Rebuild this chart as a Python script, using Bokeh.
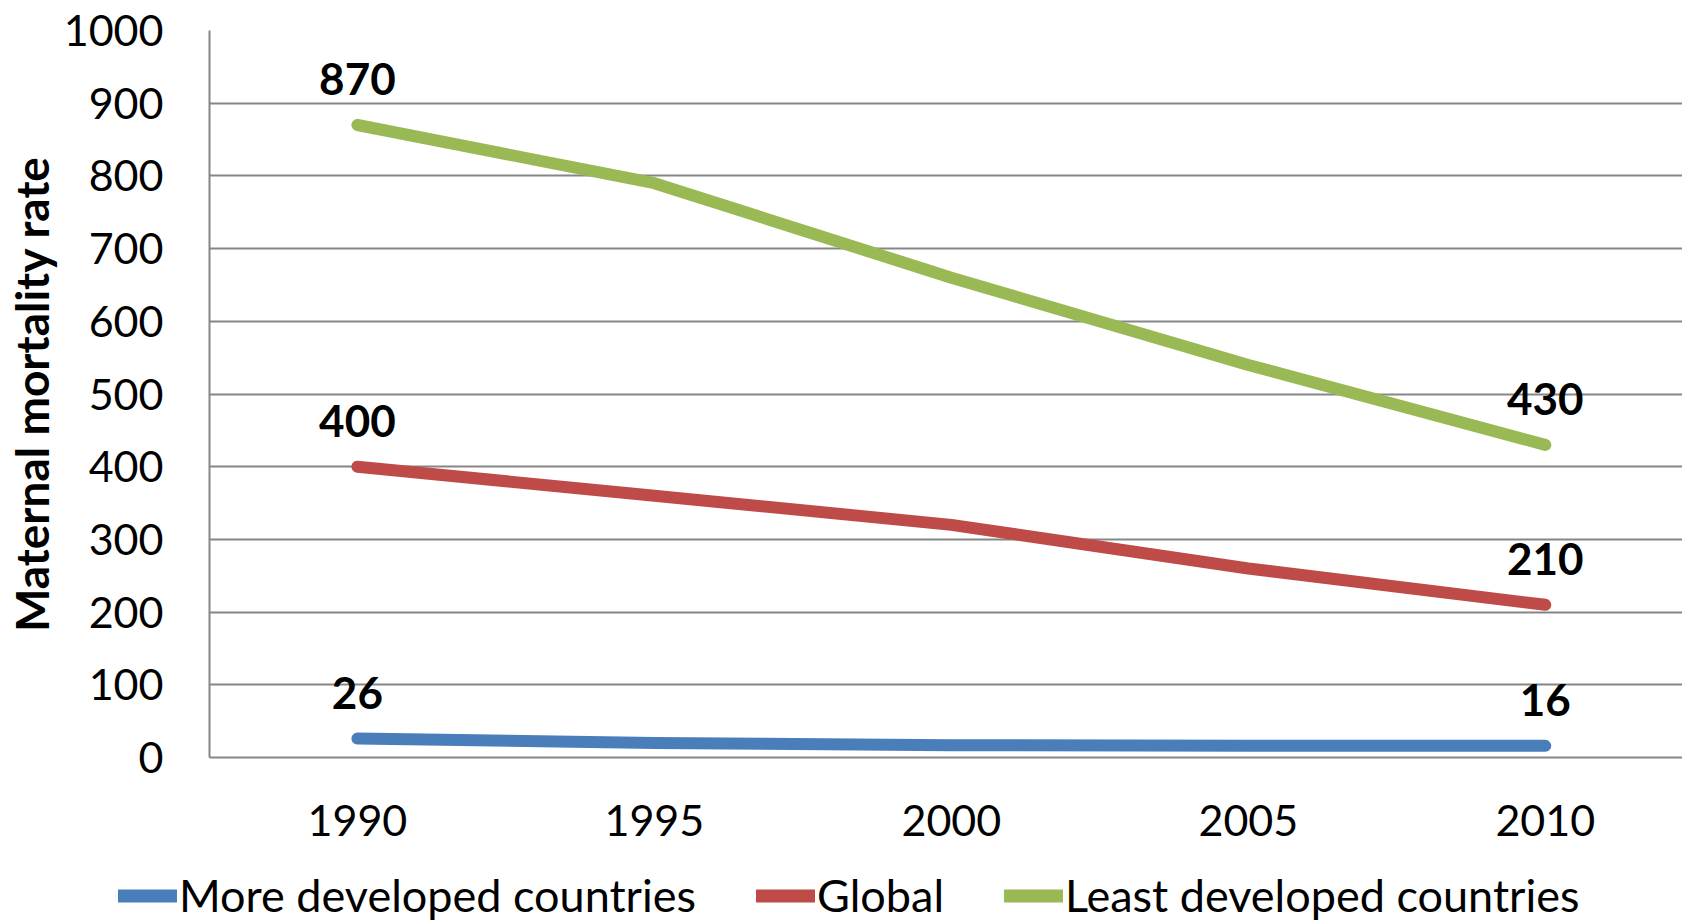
from bokeh.plotting import figure
from bokeh.layouts import column
from bokeh.models import Range1d, FixedTicker, Legend, LegendItem, ColumnDataSource
from bokeh.core.properties import value
from bokeh.embed import file_html
from bokeh.resources import INLINE

years = [1990, 1995, 2000, 2005, 2010]
more_developed = [26, 20, 17, 16, 16]
global_rate = [400, 360, 320, 260, 210]
least_developed = [870, 790, 660, 540, 430]
y_ticks = [0, 100, 200, 300, 400, 500, 600, 700, 800, 900, 1000]

series = [
    ("More developed countries", more_developed, "#4A7EBB"),
    ("Global", global_rate, "#BE4B48"),
    ("Least developed countries", least_developed, "#98B954"),
]

FONT = "Lato"
FS = "43px"
GRID = "#868686"

p = figure(width=1682, height=850, output_backend="svg", toolbar_location=None,
           x_range=Range1d(1987.51, 2012.31), y_range=Range1d(0, 1000),
           min_border_left=209, min_border_right=0, min_border_top=30, min_border_bottom=93)
p.frame_align = False
p.outline_line_color = None
p.background_fill_color = "white"
p.border_fill_color = "white"

p.xgrid.grid_line_color = None
p.ygrid.grid_line_color = GRID
p.ygrid.grid_line_width = 2
p.yaxis.ticker = FixedTicker(ticks=y_ticks)
p.xaxis.ticker = FixedTicker(ticks=years)

for ax in (p.xaxis[0], p.yaxis[0]):
    ax.axis_line_color = GRID
    ax.axis_line_width = 2
    ax.major_tick_line_color = None
    ax.minor_tick_line_color = None
    ax.major_tick_out = 0
    ax.major_tick_in = 0
    ax.minor_tick_out = 0
    ax.major_label_text_font = FONT
    ax.major_label_text_font_size = FS
    ax.major_label_text_color = "black"

p.xaxis.major_label_standoff = 47
p.yaxis.major_label_standoff = 46
p.yaxis.axis_label = "Maternal mortality rate"
p.yaxis.axis_label_text_font = FONT
p.yaxis.axis_label_text_font_size = "46px"
p.yaxis.axis_label_text_font_style = "bold"
p.yaxis.axis_label_text_color = "black"
p.yaxis.axis_label_standoff = 2

for name, vals, color in series:
    p.line(years, vals, line_color=color, line_width=12, line_cap="round", line_join="round")
    src = ColumnDataSource(dict(x=[years[0], years[-1]], y=[vals[0], vals[-1]],
                                t=[str(vals[0]), str(vals[-1])]))
    p.text(x="x", y="y", text="t", source=src, text_font=value(FONT), text_font_size="44px",
           text_font_style="bold", text_color="black", text_align="center",
           text_baseline="middle", y_offset=-46)

# legend strip below the chart
lg = figure(width=1682, height=72, output_backend="svg", toolbar_location=None,
            x_axis_location=None, y_axis_location=None,
            x_range=Range1d(0, 1), y_range=Range1d(0, 1),
            min_border_left=0, min_border_right=0, min_border_top=0, min_border_bottom=0)
lg.frame_align = False
lg.outline_line_color = None
lg.xgrid.grid_line_color = None
lg.ygrid.grid_line_color = None
lg.background_fill_color = "white"
lg.border_fill_color = "white"

items = []
for name, vals, color in series:
    r = lg.line(years, vals, line_color=color, line_width=13, line_cap="round", visible=False)
    items.append(LegendItem(label=name, renderers=[r]))

legend = Legend(items=items, location=(118, 0), orientation="horizontal",
                label_text_font=FONT, label_text_font_size="45px", label_text_color="black",
                glyph_width=59, glyph_height=27, label_height=27, label_standoff=2,
                spacing=60, padding=0, margin=0, border_line_color=None,
                background_fill_alpha=0, inactive_fill_alpha=0)
lg.add_layout(legend, "center")

layout = column(p, lg, spacing=0)
open("out.html", "w").write(file_html(layout, INLINE))
